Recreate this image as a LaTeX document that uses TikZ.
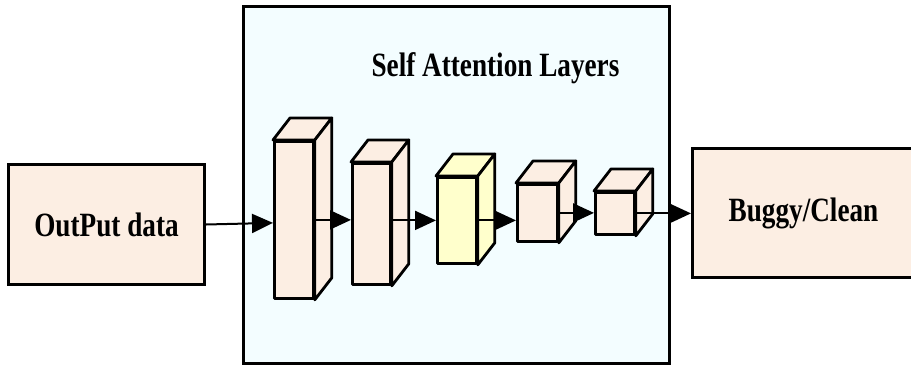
\documentclass[tikz,border=0pt]{standalone}
\usepackage{fontspec}
\usepackage{graphicx}
\setmainfont{Liberation Serif}
\usetikzlibrary{arrows.meta,calc}
\definecolor{peach}{HTML}{FCEEE3}
\definecolor{icecyan}{HTML}{F3FDFF}
\definecolor{paleyellow}{HTML}{FFFFCC}
\tikzset{
  bigbox/.style={draw=black, line width=3pt, inner sep=0pt, anchor=north west},
  cubeface/.style={draw=black, line width=2.8pt, inner sep=0pt, anchor=north west, line join=round},
  cubeside/.style={draw=black, line width=2.8pt, line join=round},
  flow/.style={draw=black, line width=2pt, -{Triangle[length=21pt,width=19pt]}},
  lbl/.style={font=\fontsize{34}{40}\selectfont\bfseries}
}
\newcommand{\mycuboid}[6]{%
  \node[cubeface, fill=#6, minimum width=#4-#2, minimum height=#5-#3] (#1) at (#2,#3) {};
  \path[cubeside, fill=#6] (#1.north west) -- ++(17,-22) -- ($(#1.north east)+(17,-22)$) -- (#1.north east) -- cycle;
  \path[cubeside, fill=#6] (#1.north east) -- ++(17,-22) -- ($(#1.south east)+(17,-22)$) -- (#1.south east) -- cycle;
}
\begin{document}
\begin{tikzpicture}[x=1pt,y=-1pt]
\useasboundingbox (0,0) rectangle (911,365);
% attention container
\node[bigbox, fill=icecyan, minimum width=426pt, minimum height=357pt] (att) at (242,5) {};
\node[lbl] (title) at (495.5,68) {\scalebox{0.8}[1]{Self Attention Layers}};
% input / output boxes
\node[bigbox, fill=peach, minimum width=196pt, minimum height=120pt] (out) at (7,163) {};
\node[lbl] (outtxt) at (out.center) {\scalebox{0.8}[1]{OutPut data}};
\node[bigbox, fill=peach, minimum width=222pt, minimum height=129pt] (bug) at (691,147) {};
\node[lbl] (bugtxt) at (bug.center) {\scalebox{0.8}[1]{Buggy/Clean}};
% cuboids
\mycuboid{c1}{273}{140}{312}{297}{peach}
\mycuboid{c2}{351}{162}{389}{283}{peach}
\mycuboid{c3}{436}{176}{475}{262}{paleyellow}
\mycuboid{c4}{516}{183}{556}{240}{peach}
\mycuboid{c5}{594}{191}{633}{233}{peach}
% connectors
\draw[flow] (out.east) -- ($(c1.west)+(0,3)$);
\draw[flow] (c1.east) -- (c1.east -| c2.west);
\draw[flow] (c3.west -| c2.east) -- (c3.west);
\draw[flow] (c3.east) -- (c3.east -| c4.west);
\draw[flow] (c4.east) -- (c4.east -| c5.west);
\draw[flow] (c5.east) -- (c5.east -| bug.west);
\end{tikzpicture}
\end{document}
